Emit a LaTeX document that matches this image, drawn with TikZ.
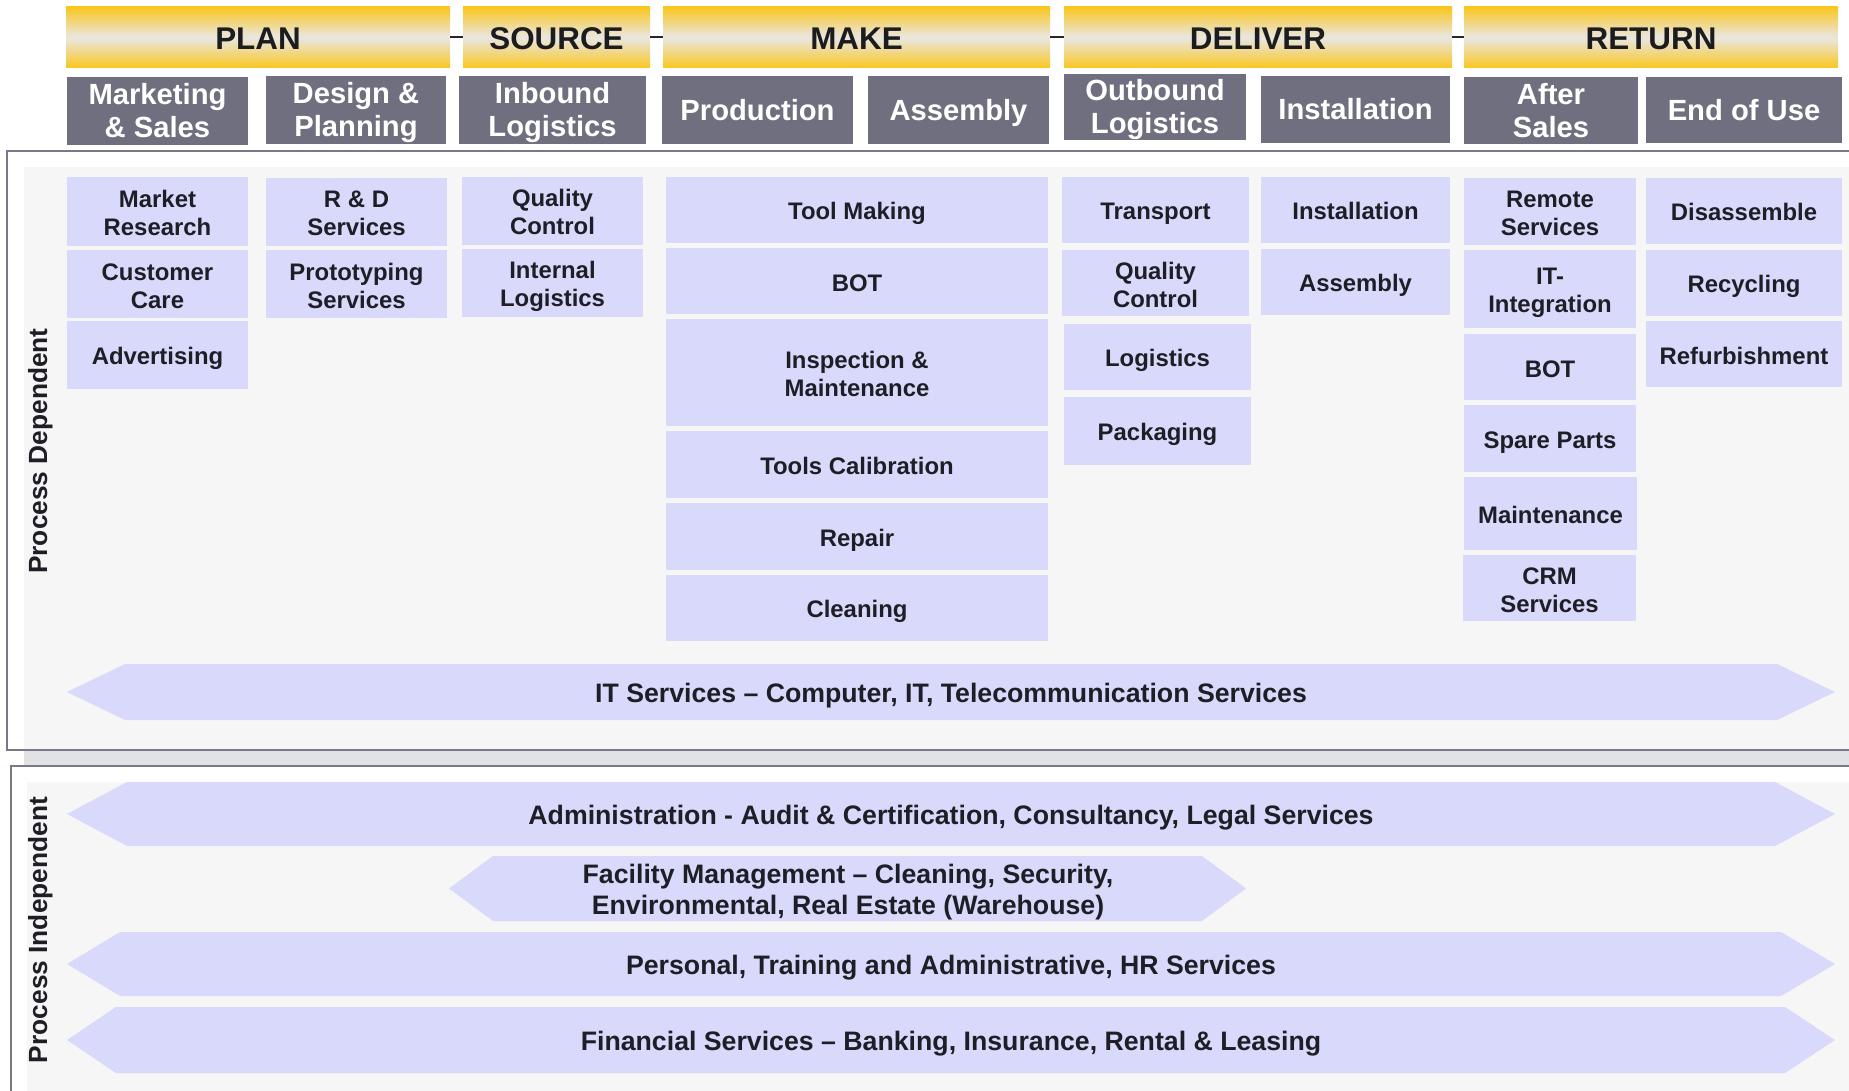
\documentclass[tikz,border=0pt]{standalone}
\usepackage{fontspec}
\setmainfont{Liberation Sans}
\definecolor{gold}{RGB}{250,198,30}
\definecolor{hdrmid}{RGB}{233,231,227}
\definecolor{hdrtext}{RGB}{28,28,30}
\definecolor{subfill}{RGB}{112,111,128}
\definecolor{itemfill}{RGB}{217,217,251}
\definecolor{itemtext}{RGB}{30,30,38}
\definecolor{lightbg}{RGB}{246,246,246}
\definecolor{bandgray}{RGB}{225,226,228}
\definecolor{framecol}{RGB}{120,120,136}
\definecolor{linkcol}{RGB}{40,40,44}
\newcommand{\nolsl}{\lineskiplimit-50pt\relax}
\newcommand{\bstrut}{}
\tikzset{
  vstrut/.style 2 args={/utils/exec={\def\bstrut{\rule[-#2]{0pt}{\dimexpr#1+#2\relax}}}},
  hdrbar/.style={draw=none,top color=gold,bottom color=gold,middle color=hdrmid,text=hdrtext,
    font={\fontsize{31.4}{36}\selectfont\bfseries\nolsl},vstrut={30.5pt}{5.5pt}},
  subbox/.style={fill=subfill,text=white,align=center,
    font={\fontsize{29.2}{33}\selectfont\bfseries\nolsl},vstrut={26.75pt}{6.25pt}},
  itembox/.style={fill=itemfill,text=itemtext,align=center,
    font={\fontsize{23.9}{28}\selectfont\bfseries\nolsl},vstrut={24pt}{4pt}},
  arrowband/.style={fill=itemfill,draw=none},
  arrowtext/.style={text=itemtext,align=center,inner sep=0pt,
    font={\fontsize{26.7}{31.5}\selectfont\bfseries\nolsl},vstrut={25.75pt}{5.75pt}},
  sidelabel/.style={rotate=90,anchor=base,text=itemtext,font={\fontsize{26.3}{30}\selectfont\bfseries}},
  framestyle/.style={draw=framecol,line width=2pt},
  linkline/.style={draw=linkcol,line width=2pt},
}
\newcommand{\mkbox}[7][itembox]{\node[#1,minimum width={#5-#3},minimum height={#6-#4},inner sep=0pt,outer sep=0pt] (#2) at ({(#3+#5)/2},{(#4+#6)/2}) {\bstrut#7\bstrut};}
\begin{document}
\begin{tikzpicture}[x=1pt,y=-1pt]
\useasboundingbox (0,0) rectangle (1849,1091);
\fill[white] (0,0) rectangle (1849,1091);
% backgrounds
\fill[lightbg] (24,167) rectangle (1849,750);
\fill[bandgray] (24,750) rectangle (1849,766);
\fill[lightbg] (27,782) rectangle (1849,1091);
\draw[framestyle] (1849,151) -| (7,750) -- (1849,750);
\draw[framestyle] (1849,766) -| (11,1091);
% header bars
\mkbox[hdrbar]{plan}{66}{7}{450}{68}{PLAN}
\mkbox[hdrbar]{source}{463}{7}{650}{68}{SOURCE}
\mkbox[hdrbar]{make}{663}{7}{1050}{68}{MAKE}
\mkbox[hdrbar]{deliver}{1064}{7}{1452}{68}{DELIVER}
\mkbox[hdrbar]{return}{1464}{7}{1838}{68}{RETURN}
\draw[linkline] (plan.east) -- (source.west);
\draw[linkline] (source.east) -- (make.west);
\draw[linkline] (make.east) -- (deliver.west);
\draw[linkline] (deliver.east) -- (return.west);
% sub headers
\mkbox[subbox]{mkt}{67}{77}{248}{145}{Marketing\\\& Sales}
\mkbox[subbox]{design}{266}{76}{446}{144}{Design \&\\Planning}
\mkbox[subbox]{inbound}{459}{76}{646}{144}{Inbound\\Logistics}
\mkbox[subbox]{prod}{662}{76}{853}{144}{Production}
\mkbox[subbox]{assem}{868}{76}{1049}{144}{Assembly}
\mkbox[subbox]{outbound}{1064}{74}{1246}{140}{Outbound\\Logistics}
\mkbox[subbox]{install}{1261}{76}{1450}{143}{Installation}
\mkbox[subbox]{after}{1464}{77}{1638}{144}{After\\Sales}
\mkbox[subbox]{eou}{1646}{77}{1842}{143}{End of Use}
% plan items
\mkbox{market}{67}{177}{248}{246}{Market\\Research}
\mkbox{customer}{67}{250}{248}{318}{Customer\\Care}
\mkbox{advert}{67}{321}{248}{389}{Advertising}
\mkbox{rnd}{266}{178}{447}{246}{R \& D\\Services}
\mkbox{proto}{266}{250}{447}{318}{Prototyping\\Services}
% source items
\mkbox{sqc}{462}{177}{643}{245}{Quality\\Control}
\mkbox{internal}{462}{249}{643}{317}{Internal\\Logistics}
% make items
\mkbox{toolmaking}{666}{177}{1048}{243}{Tool Making}
\mkbox{mbot}{666}{248}{1048}{314}{BOT}
\mkbox{insp}{666}{319}{1048}{426}{Inspection \&\\Maintenance}
\mkbox{calib}{666}{431}{1048}{498}{Tools Calibration}
\mkbox{repair}{666}{503}{1048}{570}{Repair}
\mkbox{cleaning}{666}{575}{1048}{641}{Cleaning}
% deliver items
\mkbox{transport}{1062}{177}{1249}{243}{Transport}
\mkbox{dqc}{1062}{250}{1249}{316}{Quality\\Control}
\mkbox{logistics}{1064}{324}{1251}{390}{Logistics}
\mkbox{packaging}{1064}{397}{1251}{465}{Packaging}
\mkbox{dinstall}{1261}{177}{1450}{243}{Installation}
\mkbox{dassem}{1261}{249}{1450}{315}{Assembly}
% return items
\mkbox{remote}{1464}{178}{1636}{245}{Remote\\Services}
\mkbox{itint}{1464}{250}{1636}{328}{IT-\\Integration}
\mkbox{rbot}{1464}{334}{1636}{400}{BOT}
\mkbox{spare}{1464}{405}{1636}{472}{Spare Parts}
\mkbox{maint}{1464}{477}{1637}{550}{Maintenance}
\mkbox{crm}{1463}{555}{1636}{621}{CRM\\Services}
\mkbox{disas}{1646}{178}{1842}{244}{Disassemble}
\mkbox{recyc}{1646}{250}{1842}{316}{Recycling}
\mkbox{refurb}{1646}{321}{1842}{387}{Refurbishment}
% arrows
\fill[arrowband] (67,692) -- (125,664) -- (1777,664) -- (1835,692) -- (1777,720) -- (125,720) -- cycle;
\node[arrowtext] (itserv) at (951,692) {\bstrut IT Services – Computer, IT, Telecommunication Services\bstrut};
\fill[arrowband] (67,814) -- (127,782) -- (1775,782) -- (1835,814) -- (1775,846) -- (127,846) -- cycle;
\node[arrowtext] (admin) at (951,814) {\bstrut Administration - Audit \& Certification, Consultancy, Legal Services\bstrut};
\fill[arrowband] (449,888.5) -- (493,856) -- (1202,856) -- (1246,888.5) -- (1202,921) -- (493,921) -- cycle;
\node[arrowtext] (facility) at (848,889) {\bstrut Facility Management – Cleaning, Security,\\Environmental, Real Estate (Warehouse)\bstrut};
\fill[arrowband] (67,964) -- (120,932) -- (1781,932) -- (1835,964) -- (1781,996) -- (120,996) -- cycle;
\node[arrowtext] (personal) at (951,964) {\bstrut Personal, Training and Administrative, HR Services\bstrut};
\fill[arrowband] (67,1040) -- (116,1007) -- (1785,1007) -- (1835,1040) -- (1785,1073) -- (116,1073) -- cycle;
\node[arrowtext] (financial) at (951,1040) {\bstrut Financial Services – Banking, Insurance, Rental \& Leasing\bstrut};
% side labels
\node[sidelabel] (dep) at (47,451) {Process Dependent};
\node[sidelabel] (indep) at (47,930) {Process Independent};
\end{tikzpicture}
\end{document}
